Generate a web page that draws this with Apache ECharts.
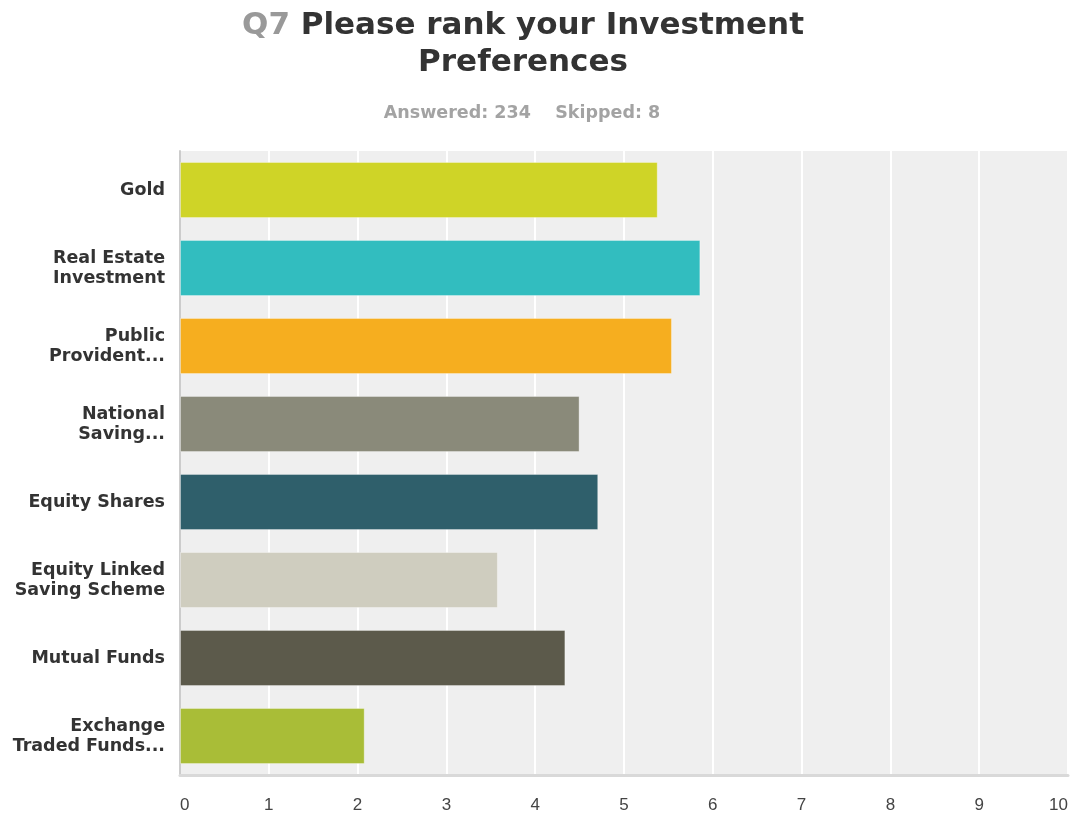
<!DOCTYPE html>
<html>
<head>
<meta charset="utf-8">
<title>Q7 Please rank your Investment Preferences</title>
<script src="https://cdn.jsdelivr.net/npm/echarts@6/dist/echarts.min.js"></script>
<style>
  html, body { margin: 0; padding: 0; background: #ffffff; }
  #chart { width: 1073px; height: 814px; }
</style>
</head>
<body>
<div id="chart"></div>
<script>
// Survey answers: average rank score per investment option
const categories = [
  'Gold',
  'Real Estate\nInvestment',
  'Public\nProvident...',
  'National\nSaving...',
  'Equity Shares',
  'Equity Linked\nSaving Scheme',
  'Mutual Funds',
  'Exchange\nTraded Funds...'
];
const scores = [5.38, 5.86, 5.54, 4.50, 4.71, 3.58, 4.34, 2.08];
const barColors = ['#cfd427', '#32bdbf', '#f6ae1f', '#8a8a7a', '#2f5f6b', '#cfcdbf', '#5c5a4b', '#a9bd37'];
const axisTicks = [0, 1, 2, 3, 4, 5, 6, 7, 8, 9, 10];

const headFont = 'DejaVu Sans';

const chart = echarts.init(document.getElementById('chart'), null, { renderer: 'canvas' });

chart.setOption({
  backgroundColor: '#ffffff',
  animation: false,
  title: [
    {
      text: '{q|Q7} Please rank your Investment\nPreferences',
      left: 518,
      top: 2,
      textAlign: 'center',
      textStyle: {
        fontFamily: headFont,
        fontWeight: 'bold',
        fontSize: 31,
        lineHeight: 37,
        color: '#333333',
        rich: {
          q: {
            fontFamily: headFont,
            fontWeight: 'bold',
            fontSize: 31,
            lineHeight: 37,
            color: '#999999'
          }
        }
      }
    },
    {
      text: 'Answered: 234    Skipped: 8',
      left: 517,
      top: 98,
      textAlign: 'center',
      textStyle: {
        fontFamily: headFont,
        fontWeight: 'bold',
        fontSize: 17.5,
        lineHeight: 20,
        color: '#a3a3a3'
      }
    }
  ],
  grid: {
    left: 180,
    right: 5,
    top: 151,
    bottom: 39,
    outerBoundsMode: 'none',
    show: true,
    backgroundColor: '#efefef',
    borderWidth: 0
  },
  xAxis: {
    type: 'value',
    min: axisTicks[0],
    max: axisTicks[axisTicks.length - 1],
    interval: 1,
    axisLine: { show: true, lineStyle: { color: '#d9d9d9', width: 3 } },
    axisTick: { show: false },
    splitLine: { show: true, lineStyle: { color: '#ffffff', width: 2 } },
    axisLabel: {
      margin: 22,
      fontFamily: 'Liberation Sans',
      fontSize: 17,
      color: '#444444',
      alignMinLabel: 'left',
      alignMaxLabel: 'right'
    }
  },
  yAxis: {
    type: 'category',
    inverse: true,
    data: categories,
    axisLine: { show: true, lineStyle: { color: '#cccccc', width: 2 } },
    axisTick: { show: false },
    splitLine: { show: false },
    axisLabel: {
      margin: 15,
      fontFamily: headFont,
      fontWeight: 'bold',
      fontSize: 17.5,
      lineHeight: 20,
      color: '#333333',
      align: 'right'
    }
  },
  series: [
    {
      type: 'bar',
      barCategoryGap: '28%',
      data: scores.map((v, i) => ({
        value: v,
        itemStyle: {
          color: barColors[i],
          borderColor: 'rgba(255,255,255,0.35)',
          borderWidth: 1
        }
      })),
      silent: true
    }
  ]
});
</script>
</body>
</html>
